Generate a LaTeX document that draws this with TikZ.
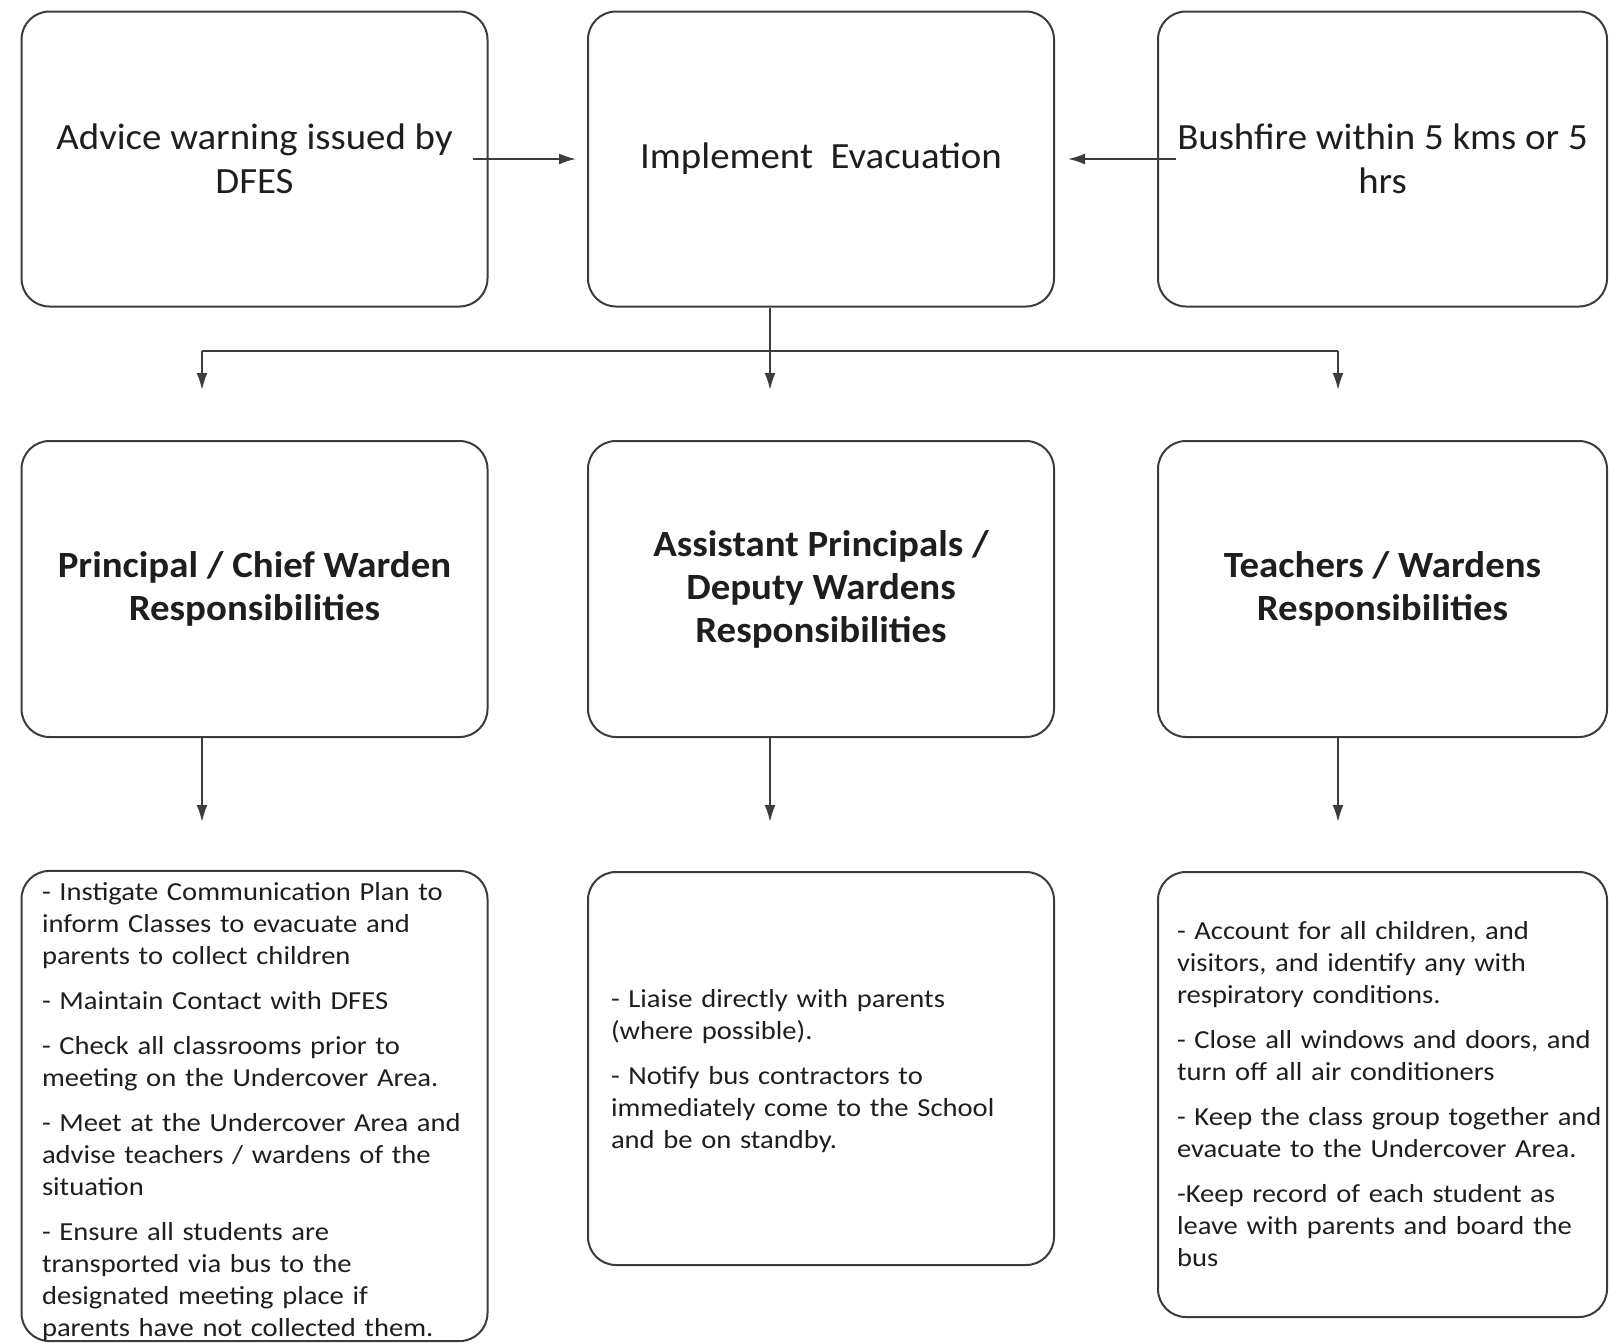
\documentclass[tikz,border=0pt]{standalone}
\usepackage{fontspec}
\setmainfont[FakeStretch=1.05]{Carlito}
\newfontfamily\listfont[FakeStretch=1.1]{Carlito}
\usetikzlibrary{arrows.meta,positioning}
\definecolor{boxline}{RGB}{60,60,60}
\definecolor{inktext}{RGB}{30,30,30}

\tikzset{
    box/.style={
        draw=boxline,
        line width=2pt,
        rounded corners=28pt,   % soft corners like the original chart
        minimum width=466pt,
        minimum height=295pt,
        align=center,
        text=inktext,
        inner sep=0pt
    },
    toptext/.style={font=\fontsize{37}{44}\selectfont},
    headtext/.style={font=\bfseries\fontsize{37}{43}\selectfont},
    listbox/.style={
        box,
        align=left,
        font=\listfont\fontsize{26}{32}\selectfont
    },
    arr/.style={draw=boxline, line width=2pt, -{Latex[length=17pt,width=11pt]}},
    bar/.style={draw=boxline, line width=2pt}
}

\begin{document}
\begin{tikzpicture}[x=1pt,y=-1pt]
\useasboundingbox (0,0) rectangle (1609,1342);

% first row
\node[box, toptext] (advice) at (254.5,159) {Advice warning issued by\\DFES};
\node[box, toptext] (impl) at (821,159) {Implement~ Evacuation};
\node[box, toptext, minimum width=449pt] (bush) at (1382.5,159) {Bushfire within 5 kms or 5\\hrs};

% second row
\node[box, headtext, minimum height=296pt] (chief) at (254.5,589) {Principal / Chief Warden\\Responsibilities};
\node[box, headtext, minimum height=296pt] (deputy) at (821,589) {Assistant Principals /\\Deputy Wardens\\Responsibilities};
\node[box, headtext, minimum height=296pt, minimum width=449pt] (teachers) at (1382.5,589) {Teachers / Wardens\\Responsibilities};

% third row
\node[listbox, minimum height=468pt, text width=425pt, inner xsep=20pt] (chieflist) at (254.5,1106) {%
\rule{0pt}{30pt}- Instigate Communication Plan to\\
inform Classes to evacuate and\\
parents to collect children\\[13pt]
- Maintain Contact with DFES\\[13pt]
- Check all classrooms prior to\\
meeting on the Undercover Area.\\[13pt]
- Meet at the Undercover Area and\\
advise teachers / wardens of the\\
situation\\[13pt]
- Ensure all students are\\
transported via bus to the\\
designated meeting place if\\
parents have not collected them.};
\node[listbox, minimum height=393pt, text width=420pt, inner xsep=23pt] (deputylist) at (821,1068.5) {%
\rule{0pt}{24pt}- Liaise directly with parents\\
(where possible).\\[13pt]
- Notify bus contractors to\\
immediately come to the School\\
and be on standby.};
\node[listbox, minimum height=445pt, minimum width=449pt, text width=449pt, inner xsep=0pt] (teacherlist) at (1382.5,1094.5) {%
\leftskip=19pt
- Account for all children, and\\
visitors, and identify any with\\
respiratory conditions.\\[13pt]
- Close all windows and doors, and\\
turn off all air conditioners\\[13pt]
- Keep the class group together and\\
evacuate to the Undercover Area.\\[13pt]
-Keep record of each student as\\
leave with parents and board the\\
bus\par};

% arrows into the evacuation box
\draw[arr] ([xshift=-16pt]advice.east) -- ([xshift=-11pt]impl.west);
\draw[arr] ([xshift=19pt]bush.west) -- ([xshift=13pt]impl.east);

% split to the three roles
\coordinate (split) at (770,351);
\coordinate (barL) at (202,351);
\coordinate (barR) at (1338,351);
\draw[bar] (impl.south -| split) -- (split);
\draw[bar] (barL) -- (barR);
\foreach \c in {barL,split,barR}
    \draw[arr] (\c) -- ++(0,39);

% roles to their task lists
\draw[arr] (chief.south -| barL) -- ++(0,84);
\draw[arr] (deputy.south -| split) -- ++(0,84);
\draw[arr] (teachers.south -| barR) -- ++(0,84);
\end{tikzpicture}
\end{document}
